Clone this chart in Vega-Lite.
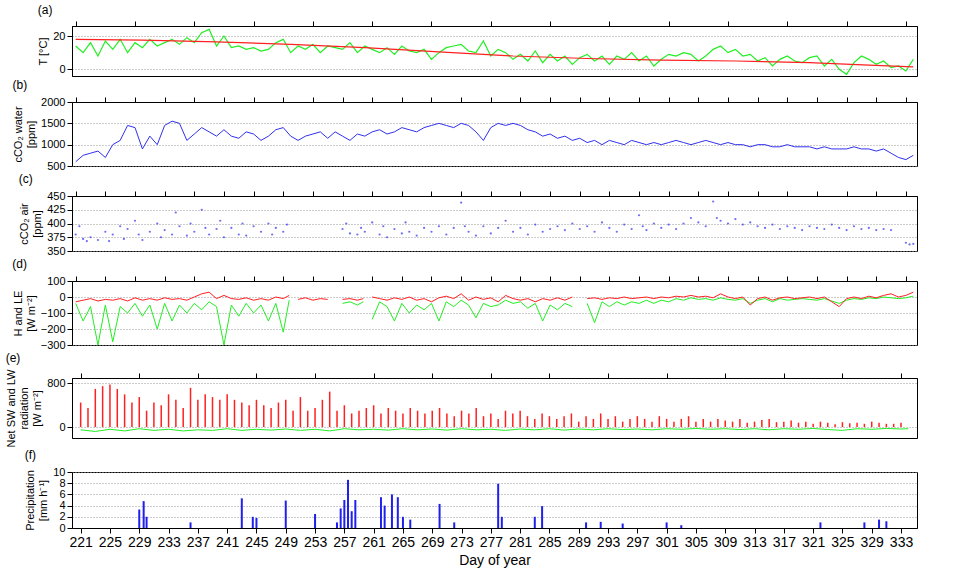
{
"$schema":"https://vega.github.io/schema/vega-lite/v6.json",
"background":"white",
"padding":{"left":5,"top":3,"right":5,"bottom":3},
"config":{"font":"Liberation Sans","view":{"stroke":"black"},"axis":{"labelFontSize":12,"titleFontSize":11,"titleFontWeight":"normal","domainColor":"black","tickColor":"black","labelColor":"black","format":"d"},"axisY":{"grid":true,"gridDash":[1,2],"gridColor":"#999","labelOverlap":false,"labelFontSize":11},"title":{"fontSize":12,"fontWeight":"normal","anchor":"start","frame":"bounds","offset":0}},
"datasets":{
"t":[{"d":221,"v":14},{"d":222,"v":10},{"d":223,"v":16},{"d":224,"v":8},{"d":225,"v":17},{"d":226,"v":12},{"d":227,"v":18},{"d":228,"v":10},{"d":229,"v":16},{"d":230,"v":13},{"d":231,"v":18},{"d":232,"v":14},{"d":233,"v":16},{"d":234,"v":18},{"d":235,"v":15},{"d":236,"v":19},{"d":237,"v":16},{"d":238,"v":22},{"d":239,"v":24},{"d":240,"v":14},{"d":241,"v":20},{"d":242,"v":13},{"d":243,"v":14},{"d":244,"v":12},{"d":245,"v":13},{"d":246,"v":11},{"d":247,"v":12},{"d":248,"v":16},{"d":249,"v":18},{"d":250,"v":10},{"d":251,"v":14},{"d":252,"v":12},{"d":253,"v":15},{"d":254,"v":10},{"d":255,"v":14},{"d":256,"v":13},{"d":257,"v":12},{"d":258,"v":16},{"d":259,"v":10},{"d":260,"v":14},{"d":261,"v":12},{"d":262,"v":10},{"d":263,"v":13},{"d":264,"v":9},{"d":265,"v":14},{"d":266,"v":11},{"d":267,"v":10},{"d":268,"v":12},{"d":269,"v":6},{"d":270,"v":10},{"d":271,"v":13},{"d":272,"v":14},{"d":273,"v":15},{"d":274,"v":11},{"d":275,"v":10},{"d":276,"v":17},{"d":277,"v":8},{"d":278,"v":12},{"d":279,"v":10},{"d":280,"v":6},{"d":281,"v":9},{"d":282,"v":5},{"d":283,"v":11},{"d":284,"v":4},{"d":285,"v":9},{"d":286,"v":5},{"d":287,"v":8},{"d":288,"v":3},{"d":289,"v":7},{"d":290,"v":9},{"d":291,"v":5},{"d":292,"v":8},{"d":293,"v":3},{"d":294,"v":8},{"d":295,"v":6},{"d":296,"v":10},{"d":297,"v":5},{"d":298,"v":8},{"d":299,"v":2},{"d":300,"v":6},{"d":301,"v":9},{"d":302,"v":8},{"d":303,"v":10},{"d":304,"v":9},{"d":305,"v":5},{"d":306,"v":8},{"d":307,"v":12},{"d":308,"v":14},{"d":309,"v":10},{"d":310,"v":12},{"d":311,"v":8},{"d":312,"v":9},{"d":313,"v":5},{"d":314,"v":7},{"d":315,"v":2},{"d":316,"v":6},{"d":317,"v":8},{"d":318,"v":5},{"d":319,"v":4},{"d":320,"v":7},{"d":321,"v":8},{"d":322,"v":2},{"d":323,"v":6},{"d":324,"v":0},{"d":325,"v":-3},{"d":326,"v":4},{"d":327,"v":8},{"d":328,"v":6},{"d":329,"v":3},{"d":330,"v":5},{"d":331,"v":1},{"d":332,"v":2},{"d":333,"v":-1},{"d":334,"v":6}],
"tw":[{"d":221,"v":18},{"d":230,"v":17.5},{"d":240,"v":16.5},{"d":250,"v":15},{"d":260,"v":13},{"d":270,"v":10.5},{"d":280,"v":8},{"d":290,"v":6.5},{"d":300,"v":5.5},{"d":310,"v":5},{"d":320,"v":4},{"d":328,"v":2.5},{"d":334,"v":1.5}],
"cw":[{"d":221,"v":600},{"d":222,"v":750},{"d":223,"v":800},{"d":224,"v":850},{"d":225,"v":700},{"d":226,"v":1000},{"d":227,"v":1100},{"d":228,"v":1450},{"d":229,"v":1400},{"d":230,"v":900},{"d":231,"v":1200},{"d":232,"v":1000},{"d":233,"v":1450},{"d":234,"v":1550},{"d":235,"v":1500},{"d":236,"v":1100},{"d":237,"v":1250},{"d":238,"v":1400},{"d":239,"v":1300},{"d":240,"v":1200},{"d":241,"v":1350},{"d":242,"v":1200},{"d":243,"v":1150},{"d":244,"v":1300},{"d":245,"v":1250},{"d":246,"v":1100},{"d":247,"v":1200},{"d":248,"v":1350},{"d":249,"v":1400},{"d":250,"v":1200},{"d":251,"v":1100},{"d":252,"v":1200},{"d":253,"v":1250},{"d":254,"v":1300},{"d":255,"v":1150},{"d":256,"v":1300},{"d":257,"v":1200},{"d":258,"v":1100},{"d":259,"v":1250},{"d":260,"v":1200},{"d":261,"v":1300},{"d":262,"v":1350},{"d":263,"v":1250},{"d":264,"v":1300},{"d":265,"v":1400},{"d":266,"v":1350},{"d":267,"v":1300},{"d":268,"v":1400},{"d":269,"v":1450},{"d":270,"v":1500},{"d":271,"v":1450},{"d":272,"v":1400},{"d":273,"v":1500},{"d":274,"v":1450},{"d":275,"v":1300},{"d":276,"v":1100},{"d":277,"v":1400},{"d":278,"v":1500},{"d":279,"v":1450},{"d":280,"v":1500},{"d":281,"v":1450},{"d":282,"v":1350},{"d":283,"v":1300},{"d":284,"v":1200},{"d":285,"v":1250},{"d":286,"v":1150},{"d":287,"v":1200},{"d":288,"v":1100},{"d":289,"v":1150},{"d":290,"v":1050},{"d":291,"v":1100},{"d":292,"v":1000},{"d":293,"v":1100},{"d":294,"v":1050},{"d":295,"v":1000},{"d":296,"v":1100},{"d":297,"v":1050},{"d":298,"v":1000},{"d":299,"v":1050},{"d":300,"v":1000},{"d":301,"v":1050},{"d":302,"v":1100},{"d":303,"v":1050},{"d":304,"v":1000},{"d":305,"v":1050},{"d":306,"v":1100},{"d":307,"v":1050},{"d":308,"v":1000},{"d":309,"v":1050},{"d":310,"v":1000},{"d":311,"v":1000},{"d":312,"v":950},{"d":313,"v":1000},{"d":314,"v":1000},{"d":315,"v":950},{"d":316,"v":950},{"d":317,"v":1000},{"d":318,"v":950},{"d":319,"v":950},{"d":320,"v":950},{"d":321,"v":900},{"d":322,"v":950},{"d":323,"v":900},{"d":324,"v":900},{"d":325,"v":900},{"d":326,"v":950},{"d":327,"v":900},{"d":328,"v":900},{"d":329,"v":850},{"d":330,"v":900},{"d":331,"v":800},{"d":332,"v":700},{"d":333,"v":650},{"d":334,"v":750}],
"ca":[{"d":221,"v":380},{"d":221.5,"v":395},{"d":222,"v":372},{"d":222.5,"v":368},{"d":223,"v":375},{"d":224,"v":370},{"d":225,"v":385},{"d":225.5,"v":368},{"d":226,"v":380},{"d":227,"v":395},{"d":227.5,"v":372},{"d":228,"v":390},{"d":229,"v":405},{"d":229.5,"v":380},{"d":230,"v":370},{"d":231,"v":385},{"d":232,"v":400},{"d":232.5,"v":375},{"d":233,"v":388},{"d":234,"v":380},{"d":234.5,"v":420},{"d":235,"v":395},{"d":236,"v":378},{"d":236.5,"v":400},{"d":237,"v":385},{"d":238,"v":425},{"d":238.5,"v":392},{"d":239,"v":380},{"d":240,"v":390},{"d":240.5,"v":405},{"d":241,"v":375},{"d":242,"v":392},{"d":243,"v":380},{"d":243.5,"v":400},{"d":244,"v":378},{"d":245,"v":395},{"d":246,"v":385},{"d":247,"v":400},{"d":247.5,"v":380},{"d":248,"v":392},{"d":249,"v":385},{"d":249.5,"v":398},{"d":257,"v":390},{"d":257.5,"v":400},{"d":258,"v":382},{"d":259,"v":380},{"d":259.5,"v":392},{"d":260,"v":385},{"d":261,"v":402},{"d":262,"v":380},{"d":262.5,"v":395},{"d":263,"v":375},{"d":264,"v":390},{"d":265,"v":382},{"d":265.5,"v":402},{"d":266,"v":385},{"d":267,"v":378},{"d":268,"v":392},{"d":269,"v":385},{"d":270,"v":395},{"d":271,"v":380},{"d":272,"v":392},{"d":273,"v":438},{"d":273.5,"v":395},{"d":274,"v":385},{"d":275,"v":378},{"d":276,"v":395},{"d":277,"v":382},{"d":278,"v":392},{"d":279,"v":405},{"d":280,"v":385},{"d":281,"v":392},{"d":282,"v":380},{"d":283,"v":398},{"d":284,"v":385},{"d":285,"v":390},{"d":286,"v":395},{"d":287,"v":388},{"d":288,"v":400},{"d":289,"v":390},{"d":290,"v":395},{"d":291,"v":385},{"d":292,"v":402},{"d":293,"v":392},{"d":294,"v":385},{"d":295,"v":398},{"d":296,"v":390},{"d":297,"v":415},{"d":297.5,"v":395},{"d":298,"v":388},{"d":299,"v":400},{"d":300,"v":392},{"d":301,"v":398},{"d":302,"v":390},{"d":303,"v":400},{"d":304,"v":410},{"d":305,"v":402},{"d":306,"v":395},{"d":307,"v":440},{"d":307.5,"v":410},{"d":308,"v":405},{"d":309,"v":400},{"d":310,"v":408},{"d":311,"v":398},{"d":312,"v":402},{"d":313,"v":395},{"d":314,"v":392},{"d":315,"v":398},{"d":316,"v":390},{"d":317,"v":395},{"d":318,"v":392},{"d":319,"v":388},{"d":320,"v":395},{"d":321,"v":392},{"d":322,"v":390},{"d":323,"v":398},{"d":324,"v":392},{"d":325,"v":388},{"d":326,"v":395},{"d":327,"v":390},{"d":328,"v":392},{"d":329,"v":388},{"d":330,"v":390},{"d":331,"v":388},{"d":333,"v":365},{"d":333.5,"v":362},{"d":334,"v":363}],
"hl":[{"d":221,"H":-30,"LE":-40},{"d":222,"H":-20,"LE":-150},{"d":223,"H":-10,"LE":-60},{"d":224,"H":-25,"LE":-300},{"d":225,"H":-15,"LE":-50},{"d":226,"H":-20,"LE":-280},{"d":227,"H":-10,"LE":-60},{"d":228,"H":-25,"LE":-100},{"d":229,"H":-5,"LE":-40},{"d":230,"H":-20,"LE":-120},{"d":231,"H":-10,"LE":-50},{"d":232,"H":-20,"LE":-200},{"d":233,"H":-5,"LE":-40},{"d":234,"H":-15,"LE":-150},{"d":235,"H":-10,"LE":-50},{"d":236,"H":-20,"LE":-100},{"d":237,"H":0,"LE":-40},{"d":238,"H":20,"LE":-80},{"d":239,"H":30,"LE":-30},{"d":240,"H":-10,"LE":-60},{"d":241,"H":10,"LE":-300},{"d":242,"H":-10,"LE":-50},{"d":243,"H":-15,"LE":-120},{"d":244,"H":-5,"LE":-40},{"d":245,"H":-20,"LE":-100},{"d":246,"H":-10,"LE":-50},{"d":247,"H":-20,"LE":-150},{"d":248,"H":0,"LE":-40},{"d":249,"H":-10,"LE":-220},{"d":249.8,"H":10,"LE":-20},{"d":250,"H":null,"LE":null},{"d":251,"H":-15,"LE":null},{"d":252,"H":-5,"LE":null},{"d":253,"H":-20,"LE":null},{"d":254,"H":-10,"LE":null},{"d":255,"H":-15,"LE":null},{"d":256,"H":null,"LE":null},{"d":257,"H":-15,"LE":-40},{"d":258,"H":-10,"LE":-30},{"d":259,"H":-20,"LE":-50},{"d":259.8,"H":-10,"LE":-30},{"d":260.5,"H":null,"LE":null},{"d":261,"H":0,"LE":-140},{"d":262,"H":-10,"LE":-30},{"d":263,"H":-20,"LE":-60},{"d":264,"H":-5,"LE":-150},{"d":265,"H":-15,"LE":-40},{"d":266,"H":0,"LE":-100},{"d":267,"H":-20,"LE":-50},{"d":268,"H":-10,"LE":-80},{"d":269,"H":-30,"LE":-40},{"d":270,"H":-5,"LE":-150},{"d":271,"H":5,"LE":-30},{"d":272,"H":-10,"LE":-60},{"d":273,"H":20,"LE":-20},{"d":274,"H":-20,"LE":-50},{"d":275,"H":0,"LE":-130},{"d":276,"H":-15,"LE":-40},{"d":277,"H":-5,"LE":-60},{"d":278,"H":-30,"LE":-50},{"d":279,"H":10,"LE":-20},{"d":280,"H":-10,"LE":-40},{"d":281,"H":-20,"LE":-30},{"d":282,"H":-10,"LE":-70},{"d":283,"H":-30,"LE":-40},{"d":284,"H":-10,"LE":-150},{"d":285,"H":-20,"LE":-50},{"d":286,"H":-5,"LE":-80},{"d":287,"H":-20,"LE":-40},{"d":288,"H":0,"LE":-60},{"d":289.5,"H":null,"LE":null},{"d":290,"H":-10,"LE":-40},{"d":291,"H":-5,"LE":-160},{"d":292,"H":-15,"LE":-30},{"d":293,"H":-5,"LE":-60},{"d":294,"H":-10,"LE":-30},{"d":295,"H":0,"LE":-50},{"d":296,"H":-10,"LE":-30},{"d":297,"H":-5,"LE":-40},{"d":298,"H":0,"LE":-20},{"d":299,"H":-10,"LE":-40},{"d":300,"H":0,"LE":-20},{"d":301,"H":-5,"LE":-30},{"d":302,"H":5,"LE":-10},{"d":303,"H":0,"LE":-20},{"d":304,"H":10,"LE":-5},{"d":305,"H":0,"LE":-15},{"d":306,"H":5,"LE":-10},{"d":307,"H":-5,"LE":-20},{"d":308,"H":20,"LE":-5},{"d":309,"H":0,"LE":-15},{"d":310,"H":-10,"LE":-20},{"d":311,"H":0,"LE":-10},{"d":312,"H":-50,"LE":-40},{"d":313,"H":-10,"LE":-20},{"d":314,"H":0,"LE":-10},{"d":315,"H":-20,"LE":-30},{"d":316,"H":-5,"LE":-10},{"d":317,"H":0,"LE":-20},{"d":318,"H":-10,"LE":-15},{"d":319,"H":-5,"LE":-10},{"d":320,"H":0,"LE":-15},{"d":321,"H":-10,"LE":-20},{"d":322,"H":0,"LE":-10},{"d":323,"H":-30,"LE":-25},{"d":324,"H":-60,"LE":-40},{"d":325,"H":-10,"LE":-20},{"d":326,"H":0,"LE":-10},{"d":327,"H":-10,"LE":-15},{"d":328,"H":5,"LE":-5},{"d":329,"H":-5,"LE":-10},{"d":330,"H":10,"LE":0},{"d":331,"H":20,"LE":-5},{"d":332,"H":0,"LE":-10},{"d":333,"H":10,"LE":-5},{"d":334,"H":30,"LE":5}],
"lw":[{"d":221,"v":-50},{"d":223,"v":-80},{"d":225,"v":-40},{"d":227,"v":-70},{"d":229,"v":-30},{"d":231,"v":-60},{"d":233,"v":-40},{"d":235,"v":-70},{"d":237,"v":-50},{"d":239,"v":-60},{"d":241,"v":-30},{"d":243,"v":-60},{"d":245,"v":-40},{"d":247,"v":-55},{"d":249,"v":-35},{"d":251,"v":-60},{"d":253,"v":-40},{"d":255,"v":-70},{"d":257,"v":-30},{"d":259,"v":-50},{"d":261,"v":-40},{"d":263,"v":-55},{"d":265,"v":-30},{"d":267,"v":-50},{"d":269,"v":-35},{"d":271,"v":-55},{"d":273,"v":-30},{"d":275,"v":-50},{"d":277,"v":-40},{"d":279,"v":-60},{"d":281,"v":-35},{"d":283,"v":-50},{"d":285,"v":-30},{"d":287,"v":-55},{"d":289,"v":-35},{"d":291,"v":-50},{"d":293,"v":-30},{"d":295,"v":-45},{"d":297,"v":-35},{"d":299,"v":-50},{"d":301,"v":-30},{"d":303,"v":-40},{"d":305,"v":-25},{"d":307,"v":-40},{"d":309,"v":-30},{"d":311,"v":-45},{"d":313,"v":-30},{"d":315,"v":-50},{"d":317,"v":-30},{"d":319,"v":-40},{"d":321,"v":-25},{"d":323,"v":-45},{"d":325,"v":-60},{"d":327,"v":-30},{"d":329,"v":-40},{"d":331,"v":-25},{"d":333,"v":-35},{"d":334,"v":-30}],
"rad":[{"d":221,"p":450},{"d":222,"p":350},{"d":223,"p":700},{"d":224,"p":750},{"d":225,"p":780},{"d":226,"p":700},{"d":227,"p":600},{"d":228,"p":450},{"d":229,"p":550},{"d":230,"p":300},{"d":231,"p":450},{"d":232,"p":400},{"d":233,"p":600},{"d":234,"p":500},{"d":235,"p":350},{"d":236,"p":720},{"d":237,"p":500},{"d":238,"p":600},{"d":239,"p":550},{"d":240,"p":500},{"d":241,"p":600},{"d":242,"p":500},{"d":243,"p":450},{"d":244,"p":400},{"d":245,"p":500},{"d":246,"p":400},{"d":247,"p":350},{"d":248,"p":450},{"d":249,"p":500},{"d":250,"p":300},{"d":251,"p":550},{"d":252,"p":300},{"d":253,"p":350},{"d":254,"p":500},{"d":255,"p":650},{"d":256,"p":300},{"d":257,"p":400},{"d":258,"p":250},{"d":259,"p":300},{"d":260,"p":350},{"d":261,"p":400},{"d":262,"p":250},{"d":263,"p":350},{"d":264,"p":300},{"d":265,"p":250},{"d":266,"p":350},{"d":267,"p":300},{"d":268,"p":250},{"d":269,"p":300},{"d":270,"p":350},{"d":271,"p":250},{"d":272,"p":200},{"d":273,"p":300},{"d":274,"p":250},{"d":275,"p":350},{"d":276,"p":200},{"d":277,"p":250},{"d":278,"p":150},{"d":279,"p":300},{"d":280,"p":250},{"d":281,"p":300},{"d":282,"p":200},{"d":283,"p":150},{"d":284,"p":250},{"d":285,"p":200},{"d":286,"p":150},{"d":287,"p":200},{"d":288,"p":250},{"d":289,"p":100},{"d":290,"p":200},{"d":291,"p":150},{"d":292,"p":250},{"d":293,"p":150},{"d":294,"p":200},{"d":295,"p":100},{"d":296,"p":150},{"d":297,"p":200},{"d":298,"p":150},{"d":299,"p":100},{"d":300,"p":200},{"d":301,"p":150},{"d":302,"p":100},{"d":303,"p":150},{"d":304,"p":200},{"d":305,"p":100},{"d":306,"p":150},{"d":307,"p":100},{"d":308,"p":150},{"d":309,"p":120},{"d":310,"p":100},{"d":311,"p":150},{"d":312,"p":80},{"d":313,"p":100},{"d":314,"p":130},{"d":315,"p":150},{"d":316,"p":90},{"d":317,"p":100},{"d":318,"p":120},{"d":319,"p":80},{"d":320,"p":100},{"d":321,"p":60},{"d":322,"p":100},{"d":323,"p":80},{"d":324,"p":50},{"d":325,"p":90},{"d":326,"p":70},{"d":327,"p":80},{"d":328,"p":60},{"d":329,"p":100},{"d":330,"p":80},{"d":331,"p":60},{"d":332,"p":60},{"d":333,"p":80}],
"pr":[{"d":229,"v":3.3},{"d":229.6,"v":4.8},{"d":230,"v":2},{"d":236,"v":1},{"d":243,"v":5.3},{"d":244.5,"v":2},{"d":245,"v":1.8},{"d":249,"v":4.9},{"d":253,"v":2.5},{"d":256,"v":1},{"d":256.5,"v":3.5},{"d":257,"v":5},{"d":257.5,"v":8.6},{"d":258,"v":3},{"d":258.5,"v":5},{"d":262,"v":5.5},{"d":262.5,"v":4},{"d":263.5,"v":6},{"d":264.3,"v":5.5},{"d":265,"v":2},{"d":266,"v":1.5},{"d":270,"v":4.3},{"d":272,"v":1},{"d":278,"v":7.9},{"d":278.5,"v":2},{"d":283,"v":2},{"d":284,"v":3.9},{"d":290,"v":1},{"d":292,"v":1.1},{"d":295,"v":0.8},{"d":301,"v":1},{"d":303,"v":0.5},{"d":322,"v":1},{"d":328,"v":1},{"d":330,"v":1.5},{"d":331,"v":1.2}]
},
"spacing":0,
"vconcat":[
{"title":"(a)","width":845,"height":50,"layer":[
{"data":{"name":"t"},"mark":{"type":"line","color":"#22ee22","strokeWidth":1.2},"encoding":{"x":{"field":"d","type":"quantitative","scale":{"domain":[220.5,334.5],"nice":false,"zero":false},"axis":{"values":[221,225,229,233,237,241,245,249,253,257,261,265,269,273,277,281,285,289,293,297,301,305,309,313,317,321,325,329,333],"labels":false,"title":null,"orient":"top","grid":false}},"y":{"field":"v","type":"quantitative","scale":{"domain":[-3,26]},"axis":{"values":[0,10,20],"title":"T [°C]"}}}},
{"data":{"name":"tw"},"mark":{"type":"line","color":"#ff2020","strokeWidth":1.2},"encoding":{"x":{"field":"d","type":"quantitative"},"y":{"field":"v","type":"quantitative"}}}]},
{"title":"(b)","width":845,"height":64,"data":{"name":"cw"},"mark":{"type":"line","color":"#3030ee","strokeWidth":1},"encoding":{"x":{"field":"d","type":"quantitative","scale":{"domain":[220.5,334.5],"nice":false,"zero":false},"axis":{"values":[221,225,229,233,237,241,245,249,253,257,261,265,269,273,277,281,285,289,293,297,301,305,309,313,317,321,325,329,333],"labels":false,"title":null,"orient":"top","grid":false}},"y":{"field":"v","type":"quantitative","scale":{"domain":[500,2000]},"axis":{"values":[500,1000,1500,2000],"title":["cCO₂ water","[ppm]"]}}}},
{"title":"(c)","width":845,"height":55,"data":{"name":"ca"},"mark":{"type":"point","color":"#3030ee","filled":true,"size":5},"encoding":{"x":{"field":"d","type":"quantitative","scale":{"domain":[220.5,334.5],"nice":false,"zero":false},"axis":{"values":[221,225,229,233,237,241,245,249,253,257,261,265,269,273,277,281,285,289,293,297,301,305,309,313,317,321,325,329,333],"labels":false,"title":null,"orient":"top","grid":false}},"y":{"field":"v","type":"quantitative","scale":{"domain":[350,450],"zero":false},"axis":{"values":[350,375,400,425,450],"title":["cCO₂ air","[ppm]"]}}}},
{"title":"(d)","width":845,"height":64,"data":{"name":"hl"},"transform":[{"fold":["LE","H"]}],"mark":{"type":"line","strokeWidth":1},"encoding":{"x":{"field":"d","type":"quantitative","scale":{"domain":[220.5,334.5],"nice":false,"zero":false},"axis":{"values":[221,225,229,233,237,241,245,249,253,257,261,265,269,273,277,281,285,289,293,297,301,305,309,313,317,321,325,329,333],"labels":false,"title":null,"orient":"top","grid":false}},"y":{"field":"value","type":"quantitative","scale":{"domain":[-300,100]},"axis":{"values":[-300,-200,-100,0,100],"title":["H and LE","[W m⁻²]"]}},"color":{"field":"key","type":"nominal","scale":{"domain":["LE","H"],"range":["#22ee22","#ff2020"]},"legend":null}}},
{"title":"(e)","width":845,"height":60,"layer":[
{"data":{"name":"rad"},"mark":{"type":"bar","color":"#ff2020","width":1.5},"encoding":{"x":{"field":"d","type":"quantitative","scale":{"domain":[220.5,334.5],"nice":false,"zero":false},"axis":{"values":[221,225,229,233,237,241,245,249,253,257,261,265,269,273,277,281,285,289,293,297,301,305,309,313,317,321,325,329,333],"labels":false,"title":null,"orient":"top","grid":false}},"y":{"field":"p","type":"quantitative","scale":{"domain":[-150,850]},"axis":{"values":[0,200,400,600,800],"title":["Net SW and LW","radiation","[W m⁻²]"]}}}},
{"data":{"name":"lw"},"mark":{"type":"line","color":"#22ee22","strokeWidth":1},"encoding":{"x":{"field":"d","type":"quantitative"},"y":{"field":"v","type":"quantitative"}}}]},
{"title":"(f)","width":845,"height":56,"data":{"name":"pr"},"mark":{"type":"bar","color":"#2020ee","width":2},"encoding":{"x":{"field":"d","type":"quantitative","scale":{"domain":[220.5,334.5],"nice":false,"zero":false},"axis":{"values":[221,225,229,233,237,241,245,249,253,257,261,265,269,273,277,281,285,289,293,297,301,305,309,313,317,321,325,329,333],"title":"Day of year","titleFontSize":14,"grid":false,"labelFontSize":14}},"y":{"field":"v","type":"quantitative","scale":{"domain":[0,10]},"axis":{"values":[0,2,4,6,8,10],"title":["Precipitation","[mm h⁻¹]"]}}}}
]
}
